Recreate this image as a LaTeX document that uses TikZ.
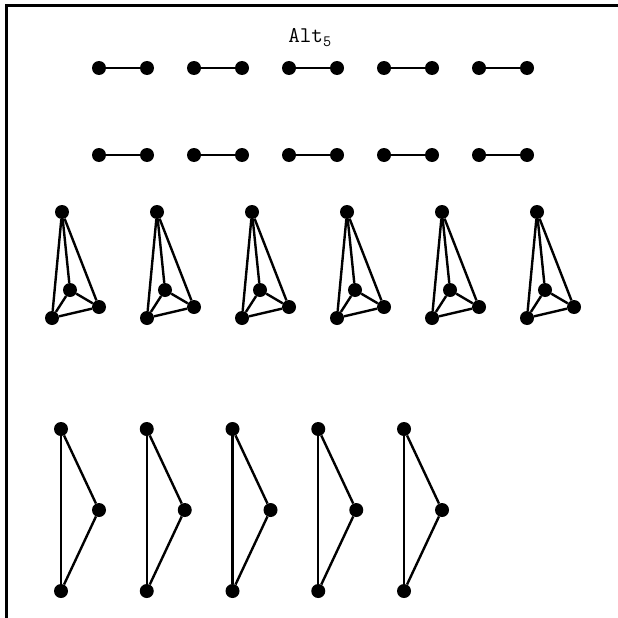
\documentclass[tikz,border=0pt]{standalone}
\begin{document}
\begin{tikzpicture}[x=1pt,y=-1pt,
  vtx/.style={circle,fill=black,inner sep=0pt,minimum size=14pt},
  edge/.style={line width=2.4pt},
  frameline/.style={line width=3pt}]
\useasboundingbox (0,0) rectangle (618,618);
\coordinate (fa) at (618,6);
\coordinate (fb) at (6,6);
\coordinate (fc) at (6,618);
\draw[frameline] (fa) -- (fb) -- (fc);
\node[anchor=base,inner sep=0pt,font=\ttfamily\fontsize{22.5}{27}\selectfont] (title) at (310,43) {Alt\textsubscript{5}};
% edge rows
\foreach \i in {0,...,4}{
  \foreach \r/\yy in {1/68,2/155}{
    \node[vtx] (e\r a\i) at (99+95*\i,\yy) {};
    \node[vtx] (e\r b\i) at (147+95*\i,\yy) {};
    \draw[edge] (e\r a\i) -- (e\r b\i);
  }
}
% tetrahedra
\foreach \i in {0,...,5}{
  \node[vtx] (tt\i) at (62+95*\i,212) {};
  \node[vtx] (ti\i) at (70+95*\i,290) {};
  \node[vtx] (tr\i) at (99+95*\i,307) {};
  \node[vtx] (tl\i) at (52+95*\i,318) {};
  \draw[edge] (tt\i) -- (tl\i);
  \draw[edge] (tt\i) -- (ti\i);
  \draw[edge] (tt\i) -- (tr\i);
  \draw[edge] (ti\i) -- (tl\i);
  \draw[edge] (ti\i) -- (tr\i);
  \draw[edge] (tl\i) -- (tr\i);
}
% triangles
\foreach \i in {0,...,4}{
  \node[vtx] (gt\i) at (61+85.75*\i,429) {};
  \node[vtx] (gr\i) at (99+85.75*\i,510) {};
  \node[vtx] (gb\i) at (61+85.75*\i,591) {};
  \draw[edge] (gt\i) -- (gb\i);
  \draw[edge] (gt\i) -- (gr\i);
  \draw[edge] (gr\i) -- (gb\i);
}
\end{tikzpicture}
\end{document}
